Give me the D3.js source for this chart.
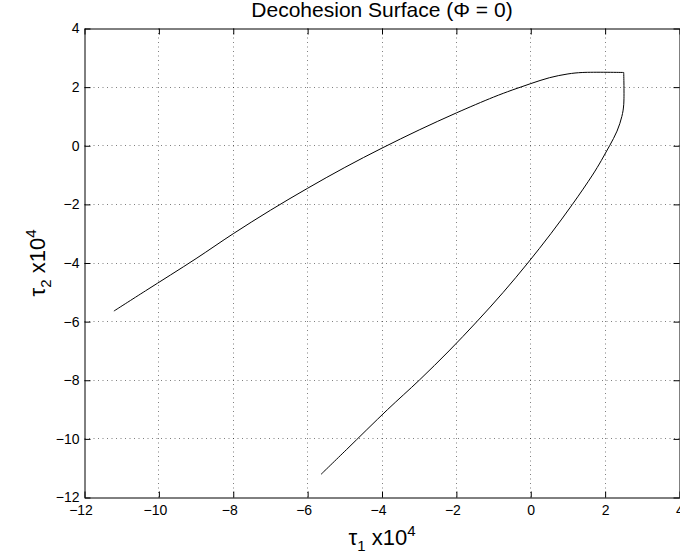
<!DOCTYPE html>
<html>
<head>
<meta charset="utf-8">
<script src="https://cdn.jsdelivr.net/npm/d3@7"></script>
<style>
    body { margin: 0; background: #fff; }
    #chart text { font-family: "Liberation Sans", Arial, Helvetica, sans-serif; fill: #000; }
</style>
</head>
<body>
<div id="chart"></div>
<script>
'use strict';

// tick values on both axes
let xTicks = [-12, -10, -8, -6, -4, -2, 0, 2, 4];
let yTicks = [-12, -10, -8, -6, -4, -2, 0, 2, 4];

// upper branch of the surface (tau1, tau2), x10^4
let upperTau1 = [-11.21, -10.36, -9, -8, -7, -6, -5, -4, -3, -2, -1, -0.5, 0, 0.5, 1, 1.4, 2.5];
let upperTau2 = [-5.64, -4.95, -3.85, -3.0, -2.2, -1.45, -0.74, -0.08, 0.54, 1.12, 1.66, 1.90, 2.12, 2.32, 2.45, 2.5, 2.5];

// lower branch, from the corner down to the end
let lowerTau1 = [2.5, 2.5, 2.45, 2.32, 2.12, 1.90, 1.66, 1.12, 0.54, -0.08, -0.74, -1.45, -2.2, -3.0, -3.85, -4.95, -5.64];
let lowerTau2 = [2.5, 1.4, 1, 0.5, 0, -0.5, -1, -2, -3, -4, -5, -6, -7, -8, -9, -10.36, -11.21];

let titleText = 'Decohesion Surface (\u03A6 = 0)';

class SurfacePlot {
    constructor(divId, width, height, margin) {
        this.margin = margin;
        this.width = width - margin.left - margin.right;
        this.height = height - margin.top - margin.bottom;

        this.x = d3.scaleLinear().range([0, this.width]);
        this.y = d3.scaleLinear().range([this.height, 0]);

        this.nativeSvg = d3.select('#' + divId).append('svg')
            .attr('width', width)
            .attr('height', height);

        this.nativeSvg.append('rect')
            .attr('width', width)
            .attr('height', height)
            .attr('fill', '#fff');

        this.svg = this.nativeSvg.append('g')
            .attr('transform', 'translate(' + (margin.left + 0.5) + ',' + (margin.top + 0.5) + ')');
    }

    setXDomain(min, max) {
        this.x.domain([min, max]);
    }

    setYDomain(min, max) {
        this.y.domain([min, max]);
    }

    renderGrid() {
        let self = this;
        let grid = this.svg.append('g').attr('class', 'grid');

        grid.selectAll('.vgrid')
            .data(xTicks.slice(1, -1))
            .enter().append('line')
            .attr('x1', d => Math.round(self.x(d)))
            .attr('x2', d => Math.round(self.x(d)))
            .attr('y1', 0)
            .attr('y2', self.height)
            .style('stroke', '#000')
            .style('stroke-dasharray', '1,3.5')
            .style('stroke-opacity', 0.5);

        grid.selectAll('.hgrid')
            .data(yTicks.slice(1, -1))
            .enter().append('line')
            .attr('y1', d => Math.round(self.y(d)))
            .attr('y2', d => Math.round(self.y(d)))
            .attr('x1', 0)
            .attr('x2', self.width)
            .style('stroke', '#000')
            .style('stroke-dasharray', '1,3.5')
            .style('stroke-opacity', 0.5);
    }

    addBranch(xs, ys) {
        let self = this;
        let pts = xs.map((v, i) => [v, ys[i]]);

        let valueLine = d3.line()
            .x(d => self.x(d[0]))
            .y(d => self.y(d[1]))
            .curve(d3.curveCatmullRom.alpha(0.5));

        this.svg.append('path')
            .datum(pts)
            .attr('d', valueLine)
            .style('fill', 'none')
            .style('stroke', '#000')
            .style('stroke-width', 1);
    }

    renderAxis() {
        let h = this.height;
        let w = this.width;
        let fmt = d3.format('');

        let bottom = d3.axisBottom(this.x).tickValues(xTicks).tickFormat(fmt)
            .tickSizeInner(-6).tickSizeOuter(0).tickPadding(8);
        let left = d3.axisLeft(this.y).tickValues(yTicks).tickFormat(fmt)
            .tickSizeInner(-6).tickSizeOuter(0).tickPadding(5);
        let top = d3.axisTop(this.x).tickValues(xTicks).tickFormat('')
            .tickSizeInner(-6).tickSizeOuter(0);
        let right = d3.axisRight(this.y).tickValues(yTicks).tickFormat('')
            .tickSizeInner(-6).tickSizeOuter(0);

        let gb = this.svg.append('g').attr('transform', 'translate(0,' + h + ')').call(bottom);
        let gl = this.svg.append('g').call(left);
        let gt = this.svg.append('g').call(top);
        let gr = this.svg.append('g').attr('transform', 'translate(' + w + ',0)').call(right);

        [gb, gl, gt, gr].forEach(function (g) {
            g.attr('font-family', null);
            g.selectAll('text').style('font-size', '14px');
            g.selectAll('line').style('stroke', '#000');
            g.select('.domain').style('stroke', '#000');
        });

        // matlab centres the digits, the minus sign hangs to the left
        gb.selectAll('.tick text').attr('dx', d => d < 0 ? -4 : 0);

        // title, clipped at the top like the original figure
        this.svg.append('text')
            .attr('x', w / 2)
            .attr('y', -12)
            .style('text-anchor', 'middle')
            .style('font-size', '21px')
            .text(titleText);

        // x label
        let xl = this.svg.append('text')
            .attr('x', w / 2)
            .attr('y', h + 47)
            .style('text-anchor', 'middle')
            .style('font-size', '22px');
        xl.append('tspan').text('\u03C4');
        xl.append('tspan').attr('dy', 6).style('font-size', '15px').text('1');
        xl.append('tspan').attr('dy', -6).text(' x10');
        xl.append('tspan').attr('dy', -9).style('font-size', '15px').text('4');

        // y label
        let yl = this.svg.append('text')
            .attr('transform', 'translate(' + (-40) + ',' + (h / 2) + ') rotate(-90)')
            .style('text-anchor', 'middle')
            .style('font-size', '22px');
        yl.append('tspan').text('\u03C4');
        yl.append('tspan').attr('dy', 6).style('font-size', '15px').text('2');
        yl.append('tspan').attr('dy', -6).text(' x10');
        yl.append('tspan').attr('dy', -9).style('font-size', '15px').text('4');
    }
}

let plot = new SurfacePlot('chart', 680, 553, {top: 28, right: 1, bottom: 56, left: 84});
plot.setXDomain(-12, 4);
plot.setYDomain(-12, 4);
plot.renderGrid();
plot.addBranch(upperTau1, upperTau2);
plot.addBranch(lowerTau1, lowerTau2);
plot.renderAxis();
</script>
</body>
</html>
